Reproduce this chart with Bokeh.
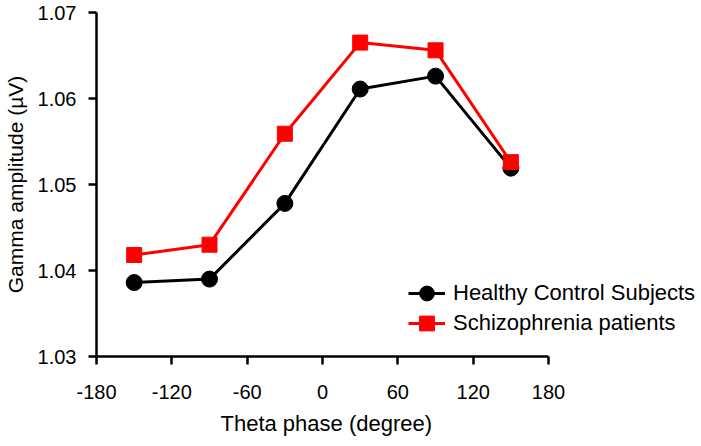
from bokeh.plotting import figure
from bokeh.models import FixedTicker, Legend, LegendItem, Range1d, Title
from bokeh.embed import file_html
from bokeh.resources import INLINE

phase = [-150, -90, -30, 30, 90, 150]
healthy = [1.0386, 1.0390, 1.0478, 1.0611, 1.0626, 1.0519]
schizo = [1.0418, 1.0430, 1.0559, 1.0665, 1.0656, 1.0526]
x_ticks = [-180, -120, -60, 0, 60, 120, 180]
y_ticks = [1.03, 1.04, 1.05, 1.06, 1.07]

FONT = "Liberation Sans"

p = figure(width=700, height=445, output_backend="svg", toolbar_location=None,
           x_range=Range1d(-180, 301), y_range=Range1d(1.03, 1.07),
           min_border_left=96, min_border_right=0, min_border_top=12, min_border_bottom=89)
p.outline_line_color = None
p.grid.visible = False
p.background_fill_color = "white"

r1l = p.line(phase, healthy, line_color="black", line_width=3)
r1s = p.scatter(phase, healthy, marker="circle", size=16, fill_color="black", line_color="black")
r2l = p.line(phase, schizo, line_color="#ff0000", line_width=3)
r2s = p.scatter(phase, schizo, marker="square", size=15, fill_color="#ff0000", line_color="#ff0000")

for ax in (p.xaxis[0], p.yaxis[0]):
    ax.axis_line_width = 2.5
    ax.axis_line_color = "black"
    ax.major_tick_line_width = 2.5
    ax.major_tick_out = 8
    ax.major_tick_in = 0
    ax.minor_tick_line_color = None
    ax.major_label_text_font = FONT
    ax.major_label_text_font_size = "20px"
    ax.major_label_text_color = "black"
    ax.axis_label_text_font = FONT
    ax.axis_label_text_font_size = "21px"
    ax.axis_label_text_font_style = "normal"
    ax.axis_label_text_color = "black"

p.xaxis.ticker = FixedTicker(ticks=x_ticks)
p.xaxis.bounds = (-180, 180)
p.xaxis.major_label_overrides = {t: str(t) for t in x_ticks}
p.xaxis.major_label_standoff = 20

p.yaxis.ticker = FixedTicker(ticks=y_ticks)
p.yaxis.axis_label = "Gamma amplitude (µV)"
p.yaxis.major_label_standoff = 12
p.yaxis.axis_label_standoff = 8

xt = Title(text="Theta phase (degree)", align="left", offset=124,
           text_font=FONT, text_font_size="22px", text_font_style="normal",
           text_color="black", standoff=15)
p.add_layout(xt, "below")

common = dict(glyph_width=37, glyph_height=38, label_standoff=8, padding=0, margin=0,
              border_line_color=None, background_fill_alpha=0,
              label_text_font=FONT, label_text_font_size="22px", label_text_color="black")
leg1 = Legend(items=[LegendItem(label="Healthy Control Subjects", renderers=[r1l, r1s])],
              location=(312, 44), **common)
leg2 = Legend(items=[LegendItem(label="Schizophrenia patients", renderers=[r2l, r2s])],
              location=(312, 14), **common)
p.add_layout(leg1, "center")
p.add_layout(leg2, "center")

open("out.html", "w").write(file_html(p, INLINE))
